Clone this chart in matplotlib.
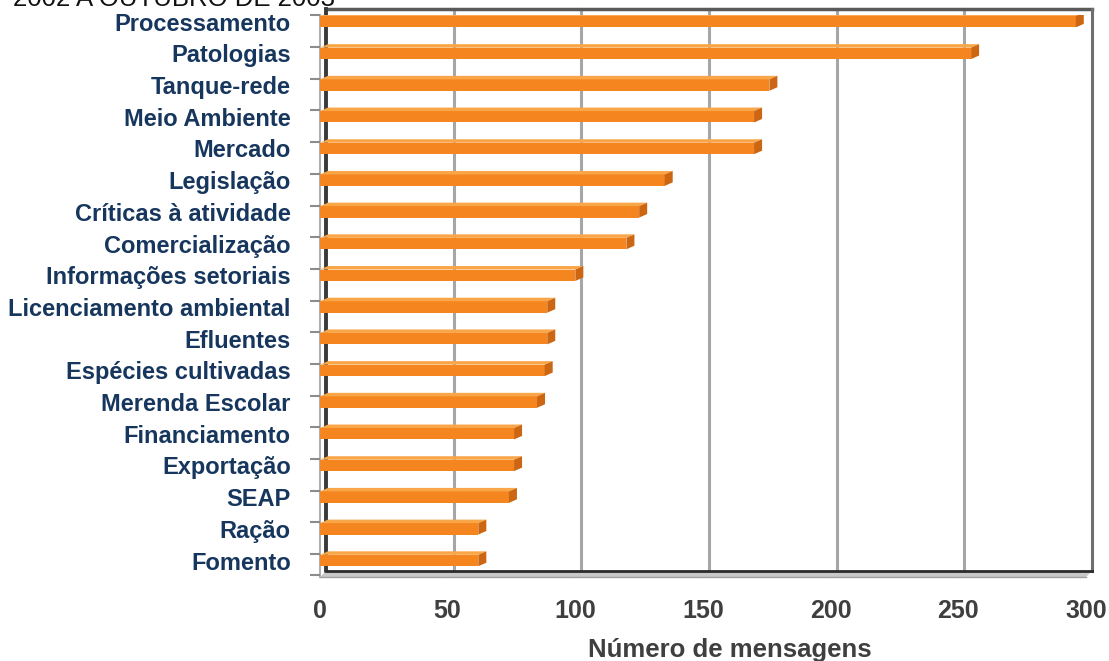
import numpy as np
import matplotlib.pyplot as plt
from matplotlib.patches import Polygon

# Temas das mensagens (de cima para baixo) e número de mensagens
categorias = ["Processamento", "Patologias", "Tanque-rede", "Meio Ambiente", "Mercado",
              "Legislação", "Críticas à atividade", "Comercialização", "Informações setoriais",
              "Licenciamento ambiental", "Efluentes", "Espécies cultivadas", "Merenda Escolar",
              "Financiamento", "Exportação", "SEAP", "Ração", "Fomento"]
mensagens = [296, 255, 176, 170, 170, 135, 125, 120, 100, 89, 89, 88, 85, 76, 76, 74, 62, 62]
x_ticks = [0, 50, 100, 150, 200, 250, 300]

plt.rcParams['font.family'] = ['Liberation Sans', 'DejaVu Sans']

W, H = 1109, 661
fig = plt.figure(figsize=(W / 100, H / 100), dpi=100)
ax = fig.add_axes([320 / W, 1 - 577 / H, (1086 - 320) / W, (577 - 15) / H])
ax.set_xlim(0, 300)
ax.set_ylim(17.52, -0.21)
for s in ax.spines.values():
    s.set_visible(False)


def shift(x, y, dx, dy):
    # move a data point by (dx, dy) pixels, back to data coords
    px = ax.transData.transform((x, y))
    return tuple(ax.transData.inverted().transform((px[0] + dx, px[1] + dy)))


y0, y1 = ax.get_ylim()  # bottom, top
D = 6  # depth offset of the back wall, pixels

# back wall gridlines + floor lines
for v in x_ticks[1:-1]:
    a = shift(v, y0, D, D)
    b = shift(v, y1, D, D)
    ax.plot([a[0], b[0]], [a[1], b[1]], color="#a6a6a6", lw=2.2, zorder=1, clip_on=False)
    ax.plot([v, a[0]], [y0, a[1]], color="#8c8c8c", lw=1.2, zorder=2, clip_on=False)

# floor
fl = [(0, y0), (300, y0), shift(300, y0, D, D), shift(0, y0, D, D)]
ax.add_patch(Polygon(fl, closed=True, facecolor="#c8c8c8", edgecolor="none", zorder=2, clip_on=False))
ax.plot([fl[3][0], fl[2][0]], [fl[3][1], fl[2][1]], color="#2b2b2b", lw=2, zorder=3, clip_on=False)
ax.plot([0, 300], [y0, y0], color="#a0a0a0", lw=1, zorder=3, clip_on=False)

# back wall frame
tl = shift(0, y1, D, D)
tr = shift(300, y1, D, D)
br = fl[2]
bl = fl[3]
ax.plot([tl[0], tr[0]], [tl[1], tr[1]], color="#5a5a5a", lw=2.5, zorder=1, clip_on=False)
ax.plot([tr[0], br[0]], [tr[1], br[1]], color="#6e6e6e", lw=2.2, zorder=1, clip_on=False)
ax.plot([bl[0], tl[0]], [bl[1], tl[1]], color="#3a3a3a", lw=2.8, zorder=1, clip_on=False)
ax.plot([0, 0], [y0, y1], color="#b0b0b0", lw=1.5, zorder=1, clip_on=False)

# bars with a little 3d look
y = np.arange(len(categorias))
h = 0.36
ax.barh(y, mensagens, height=h, color="#f5861f", edgecolor="none", zorder=4)
for yi, v in zip(y, mensagens):
    top = yi - h / 2
    bot = yi + h / 2
    face_top = [(0, top), (v, top), shift(v, top, 8, 3.5), shift(0, top, 8, 3.5)]
    ax.add_patch(Polygon(face_top, closed=True, facecolor="#f9a649", edgecolor="none", zorder=4))
    cap = [(v, top), shift(v, top, 8, 3.5), shift(v, bot, 8, 3.5), (v, bot)]
    ax.add_patch(Polygon(cap, closed=True, facecolor="#cc6612", edgecolor="none", zorder=5))

# ticks
ax.set_yticks(y)
ax.set_yticklabels(categorias, fontsize=17, fontweight="bold", color="#17365d")
ax.set_yticks(list(y - 0.2) + [y0 - 0.05], minor=True)
ax.tick_params(axis="y", which="major", length=0, pad=21)
ax.tick_params(axis="y", which="minor", length=7, width=1.5, color="#8c8c8c")
ax.set_xticks(x_ticks)
ax.set_xticklabels([str(t) for t in x_ticks], fontsize=18, fontweight="bold", color="#3f3f3f")
ax.tick_params(axis="x", length=0, pad=16)

fig.text(730 / W, 1 - 657 / H, "Número de mensagens", fontsize=18.5, fontweight="bold",
         color="#3f3f3f", ha="center", va="baseline")
fig.text(13 / W, 1 - 6 / H, "2002 A OUTUBRO DE 2003", fontsize=18.5, color="#111111",
         ha="left", va="baseline")

fig.savefig("out.png", dpi=100)
